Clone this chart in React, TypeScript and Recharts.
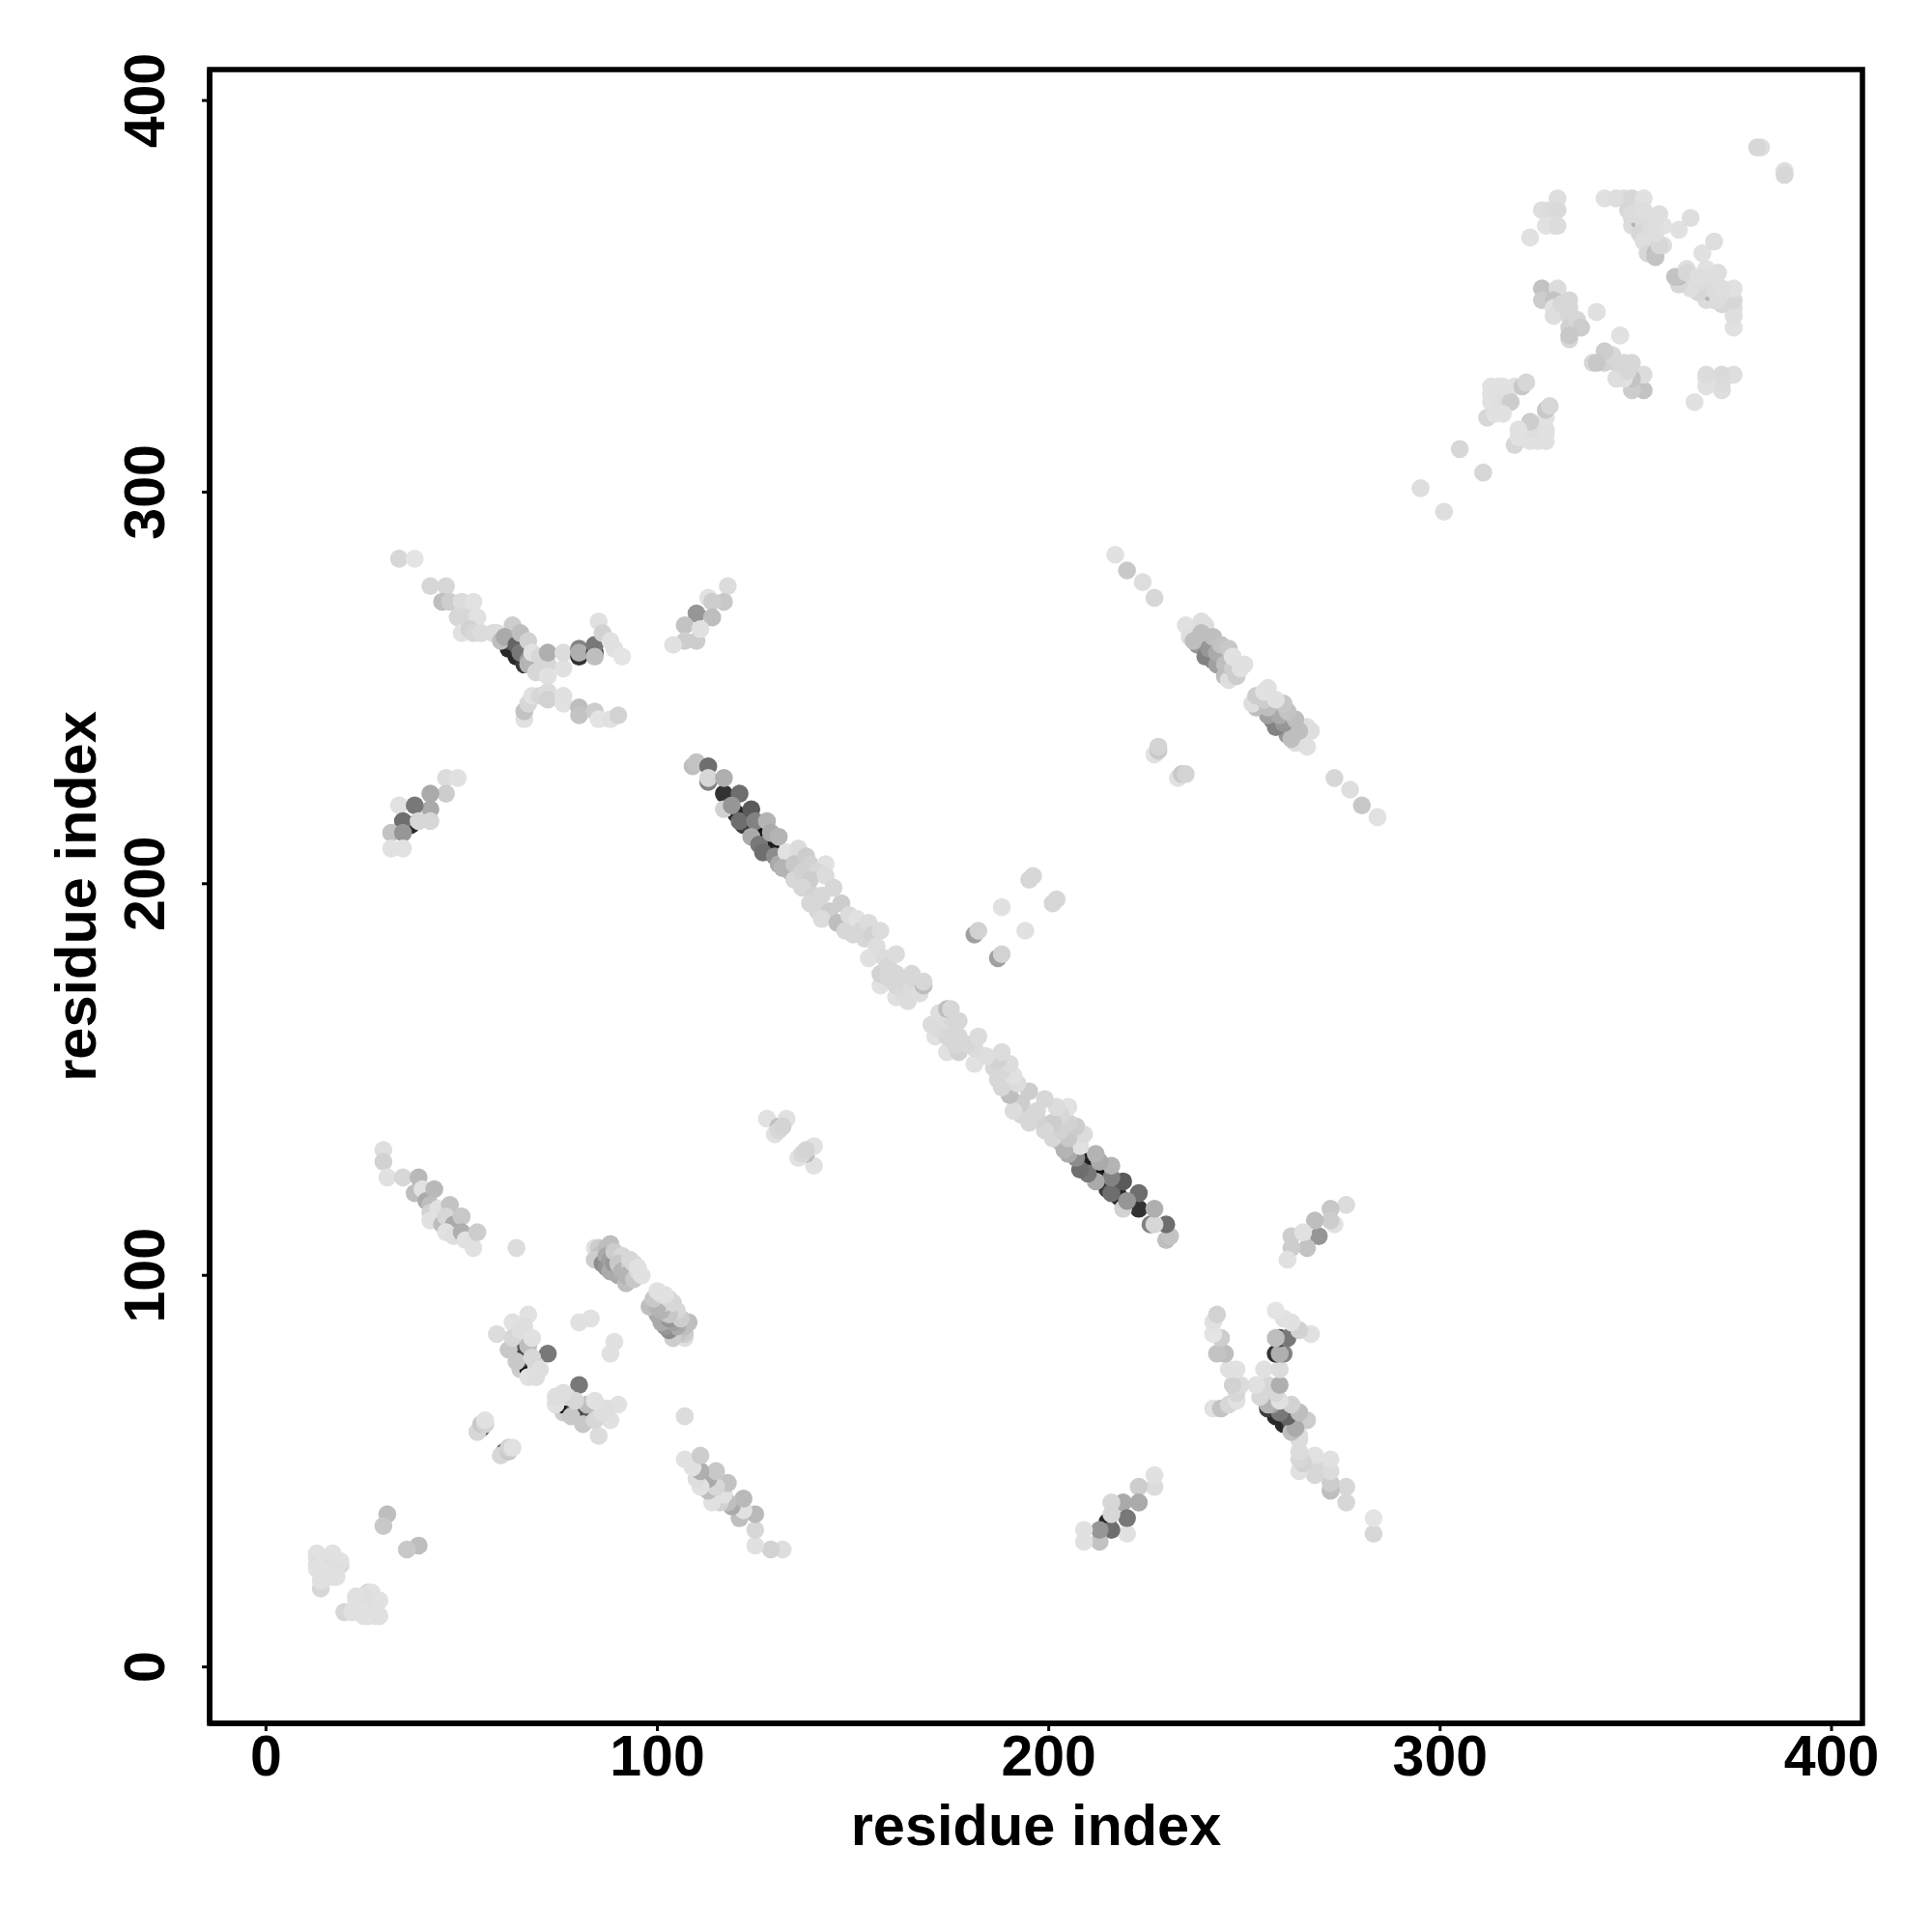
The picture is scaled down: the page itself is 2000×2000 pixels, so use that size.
import { ReferenceArea, Label, Scatter, ScatterChart, XAxis, YAxis } from "recharts";

// contact pairs: [residue a, residue b, grey level]
// a contact map is symmetric, each pair is plotted at (a,b) and (b,a)
type Contact = [number, number, number];

const X_TICKS = [0, 100, 200, 300, 400];
const Y_TICKS = [0, 100, 200, 300, 400];
const AXIS_DOMAIN = [-14.4, 407.9];
const AXIS_LABEL = "residue index";

const start: Contact[] = [
  [13, 29, 225], [17, 29, 225], [13, 28, 225], [15, 28, 225], [13, 26, 222], [15, 27, 225], [16, 26, 225],
  [19, 26, 215], [19, 27, 225], [17, 24, 225], [17, 23, 225], [14, 20, 215], [13, 25, 225], [14, 22, 224], [16, 25, 222],
  [18, 25, 222], [15, 24, 225], [18, 23, 224],
  [31, 39, 190], [30, 36, 200],
];

const helixPair: Contact[] = [
  [30, 132, 222], [30, 129, 210], [31, 125, 225], [35, 125, 215], [39, 125, 185], [38, 121, 190], [40, 122, 225],
  [41, 119, 170], [43, 122, 185], [42, 118, 190], [42, 116, 210], [42, 114, 225], [44, 117, 225], [47, 118, 195],
  [45, 113, 190], [46, 115, 215], [48, 113, 170], [50, 115, 200], [46, 111, 225], [48, 110, 222],
  [50, 111, 175], [51, 109, 225], [53, 107, 225], [54, 111, 205], [64, 107, 220],
];

const strands: Contact[] = [
  [84, 107, 225], [85, 107, 205], [85, 105, 195], [84, 104, 205], [86, 103, 140], [87, 107, 190], [88, 108, 190],
  [87, 105, 170], [87, 102, 150], [88, 104, 160], [88, 101, 170], [89, 103, 150], [89, 106, 205], [90, 100, 170],
  [91, 105, 215], [92, 98, 190], [90, 103, 200], [91, 101, 180], [93, 102, 205], [92, 100, 180], [94, 99, 200],
  [93, 104, 215], [95, 101, 215], [94, 103, 215], [96, 100, 225], [95, 102, 225],
  [55, 61, 100], [54, 60, 215], [55, 62, 200], [56, 62, 210], [56, 63, 225],
];

const turn: Contact[] = [
  [65, 76, 205], [67, 76, 20], [65, 81, 60], [64, 83, 90], [66, 79, 70], [59, 85, 220], [63, 88, 225], [67, 90, 225], [66, 85, 225],
  [62, 81, 200], [63, 84, 215], [64, 78, 200], [65, 86, 222], [67, 82, 190], [66, 87, 222], [72, 80, 120],
  [68, 79, 215], [69, 77, 215], [70, 76, 222], [67, 74, 225], [69, 74, 222], [68, 84, 225],
  [80, 88, 225], [83, 89, 225],
  [128, 140, 225], [131, 138, 190], [133, 140, 225], [130, 136, 225], [131, 137, 215], [132, 138, 212],
];

const band: Contact[] = [
  [117, 223, 50], [120, 218, 40], [125, 214, 30], [127, 212, 20], [129, 210, 30], [122, 215, 60],
  [109, 230, 190], [110, 231, 195], [113, 230, 110], [113, 226, 130], [113, 227, 215], [117, 227, 175],
  [121, 223, 110], [117, 219, 210], [119, 220, 150], [121, 216, 110], [124, 219, 90], [125, 216, 130], [124, 212, 170],
  [126, 210, 120], [128, 216, 180], [127, 208, 110], [129, 213, 170], [131, 212, 180], [130, 207, 140], [131, 205, 170],
  [133, 208, 225], [136, 209, 220], [134, 203, 190], [132, 204, 180], [135, 205, 200], [135, 201, 215], [138, 207, 205],
  [137, 203, 210], [139, 205, 210], [143, 205, 225], [141, 203, 215], [139, 201, 205], [137, 199, 215], [143, 202, 220],
  [140, 197, 210], [139, 195, 215], [142, 197, 215], [141, 193, 215], [144, 193, 205], [145, 199, 215],
  [142, 191, 220], [146, 190, 190], [147, 195, 205], [148, 188, 215], [149, 192, 220],
  [150, 187, 215], [151, 191, 225], [152, 188, 215], [153, 186, 215], [154, 190, 220], [155, 187, 210], [157, 188, 220],
  [154, 181, 225], [156, 184, 222], [157, 174, 225], [157, 177, 210], [158, 181, 220], [159, 176, 215], [159, 179, 215],
  [161, 171, 225], [161, 174, 215], [161, 177, 215], [161, 182, 220], [163, 172, 218], [163, 175, 215], [164, 170, 220],
  [165, 173, 220], [165, 177, 215], [166, 175, 215], [167, 172, 222], [168, 174, 190], [168, 175, 215],
];

const crossTurn: Contact[] = [
  [34, 283, 215], [38, 283, 228], [42, 276, 215], [46, 276, 215], [45, 272, 190], [47, 272, 205], [50, 272, 220], [53, 272, 225],
  [49, 268, 215], [51, 268, 215], [54, 268, 225], [50, 264, 225], [52, 265, 210], [53, 264, 215], [55, 264, 220], [58, 264, 220], [59, 264, 220],
  [62, 260, 40], [64, 258, 40], [66, 256, 60], [62, 262, 80], [60, 262, 190], [63, 266, 205], [61, 263, 170], [64, 261, 100], [65, 259, 120], [65, 264, 190],
  [67, 262, 210], [67, 257, 160], [67, 256, 180], [68, 259, 225], [70, 258, 215], [69, 254, 215], [72, 256, 215], [72, 259, 175],
  [76, 255, 225], [76, 259, 220], [72, 253, 225],
  [80, 258, 50], [80, 260, 130], [80, 259, 175], [84, 259, 60], [84, 261, 120], [84, 258, 190], [85, 267, 225], [86, 264, 210],
  [88, 262, 225], [89, 260, 225], [91, 258, 228],
  [66, 242, 225], [66, 244, 195], [67, 246, 215], [68, 248, 225], [70, 248, 215], [72, 249, 220], [72, 247, 210], [76, 248, 225], [76, 246, 225],
  [80, 245, 190], [80, 243, 195], [84, 244, 205], [85, 242, 228], [88, 242, 225], [90, 243, 210],
  [118, 276, 220], [113, 273, 225], [117, 272, 200], [114, 272, 205], [110, 269, 150], [114, 268, 190], [107, 266, 195],
  [107, 262, 205], [110, 262, 205], [111, 265, 225], [104, 261, 225],
  [37, 215, 40], [46, 227, 220], [49, 227, 225], [46, 223, 205], [42, 223, 170], [34, 220, 225], [42, 219, 170], [38, 220, 120],
  [35, 216, 110], [39, 216, 215], [42, 216, 215], [32, 213, 195], [35, 213, 150], [32, 209, 225], [35, 209, 225],
];

const longStrands: Contact[] = [
  [217, 284, 225], [220, 280, 200], [224, 277, 222], [227, 273, 215],
  [238, 261, 150], [240, 258, 130], [242, 257, 130], [243, 256, 160], [245, 253, 190], [235, 266, 225], [236, 263, 222],
  [237, 262, 190], [239, 267, 222], [240, 266, 222], [239, 264, 190], [241, 260, 150], [243, 259, 170],
  [242, 263, 190], [244, 261, 195], [246, 252, 222], [246, 260, 200], [245, 256, 190], [248, 253, 205], [247, 255, 205], [247, 258, 225], [249, 255, 225], [250, 256, 225],
  [227, 233, 225], [228, 234, 200], [228, 235, 212],
  [181, 187, 160], [182, 188, 210], [188, 194, 225], [195, 201, 215], [196, 202, 215],
];

const tail: Contact[] = [
  [295, 301, 222], [305, 311, 215],
  [313, 327, 225], [315, 327, 225], [316, 327, 225], [319, 327, 225], [321, 327, 200], [322, 328, 215], [313, 323, 225], [313, 325, 225], [316, 323, 222], [318, 323, 205],
  [312, 319, 215], [314, 320, 225], [316, 320, 225],
  [326, 352, 195], [326, 349, 205], [330, 352, 220], [329, 349, 195], [329, 347, 225], [329, 345, 222], [331, 348, 215], [333, 349, 215], [333, 347, 215], [333, 345, 215],
  [333, 342, 210], [335, 344, 215], [336, 342, 205], [333, 339, 215], [333, 340, 200], [340, 346, 222], [340, 346, 225],
  [330, 375, 222], [326, 372, 222], [328, 372, 220], [330, 372, 218], [327, 368, 225], [329, 368, 225], [330, 368, 220], [323, 365, 225],
  [342, 375, 225], [345, 375, 222], [347, 375, 222], [349, 375, 215], [352, 375, 225], [348, 372, 215], [349, 370, 215], [349, 368, 220], [351, 369, 180],
  [352, 369, 220], [351, 366, 215], [354, 367, 220], [356, 371, 222], [357, 368, 225], [361, 367, 225], [364, 370, 222], [352, 364, 222], [353, 361, 215], [355, 361, 190], [355, 360, 195], [357, 363, 222], [356, 363, 215],
  [355, 370, 222], [355, 366, 222], [351, 372, 222], [349, 371, 220], [352, 372, 222],
  [382, 388, 222], [381, 388, 215],
];

const contacts = [...start, ...helixPair, ...strands, ...turn, ...band, ...crossTurn, ...longStrands, ...tail];
const points = contacts.flatMap(([a, b, level]) => [
  { x: a, y: b, level },
  { x: b, y: a, level },
]);

const FONT = "'Liberation Sans', Arial, sans-serif";

function Dot(props: any) {
  const { cx, cy, payload } = props;
  const g = payload.level;
  return <circle cx={cx} cy={cy} r={9.3} fill={`rgb(${g},${g},${g})`} />;
}

function XTick({ x, y, payload }: any) {
  return (
    <text x={x} y={y + 44} textAnchor="middle" fontFamily={FONT} fontWeight="bold" fontSize={59} fill="#000">
      {payload.value}
    </text>
  );
}

function YTick({ x, y, payload }: any) {
  const tx = x - 37;
  return (
    <text x={tx} y={y} transform={`rotate(-90 ${tx} ${y})`} textAnchor="middle" fontFamily={FONT} fontWeight="bold" fontSize={59} fill="#000">
      {payload.value}
    </text>
  );
}

export default function App() {
  return (
    <div style={{ position: "absolute", left: 0, top: 0, width: 2000, height: 2000, background: "#fff" }}>
      <ScatterChart width={2000} height={2000} margin={{ top: 72, right: 72, bottom: 0, left: 1 }}>
        <XAxis
          type="number"
          dataKey="x"
          domain={AXIS_DOMAIN}
          ticks={X_TICKS}
          allowDataOverflow
          height={216}
          interval={0}
          stroke="#000"
          axisLine={{ stroke: "#000", strokeWidth: 5.5 }}
          tickLine={{ stroke: "#000", strokeWidth: 3 }}
          tickSize={8}
          tick={<XTick />}
        >
          <Label value={AXIS_LABEL} position="insideBottom" offset={90} fontFamily={FONT} fontWeight="bold" fontSize={59.5} fill="#000" />
        </XAxis>
        <YAxis
          type="number"
          dataKey="y"
          domain={AXIS_DOMAIN}
          ticks={Y_TICKS}
          allowDataOverflow
          width={216}
          interval={0}
          stroke="#000"
          axisLine={{ stroke: "#000", strokeWidth: 5.5 }}
          tickLine={{ stroke: "#000", strokeWidth: 3 }}
          tickSize={8}
          tick={<YTick />}
        >
          <Label value={AXIS_LABEL} angle={-90} position="insideLeft" offset={77} style={{ textAnchor: "middle" }} fontFamily={FONT} fontWeight="bold" fontSize={59.5} fill="#000" />
        </YAxis>
        <Scatter data={points} shape={<Dot />} isAnimationActive={false} />
        <ReferenceArea
          x1={AXIS_DOMAIN[0]}
          x2={AXIS_DOMAIN[1]}
          y1={AXIS_DOMAIN[0]}
          y2={AXIS_DOMAIN[1]}
          fill="none"
          stroke="#000"
          strokeWidth={5.5}
        />
      </ScatterChart>
    </div>
  );
}
